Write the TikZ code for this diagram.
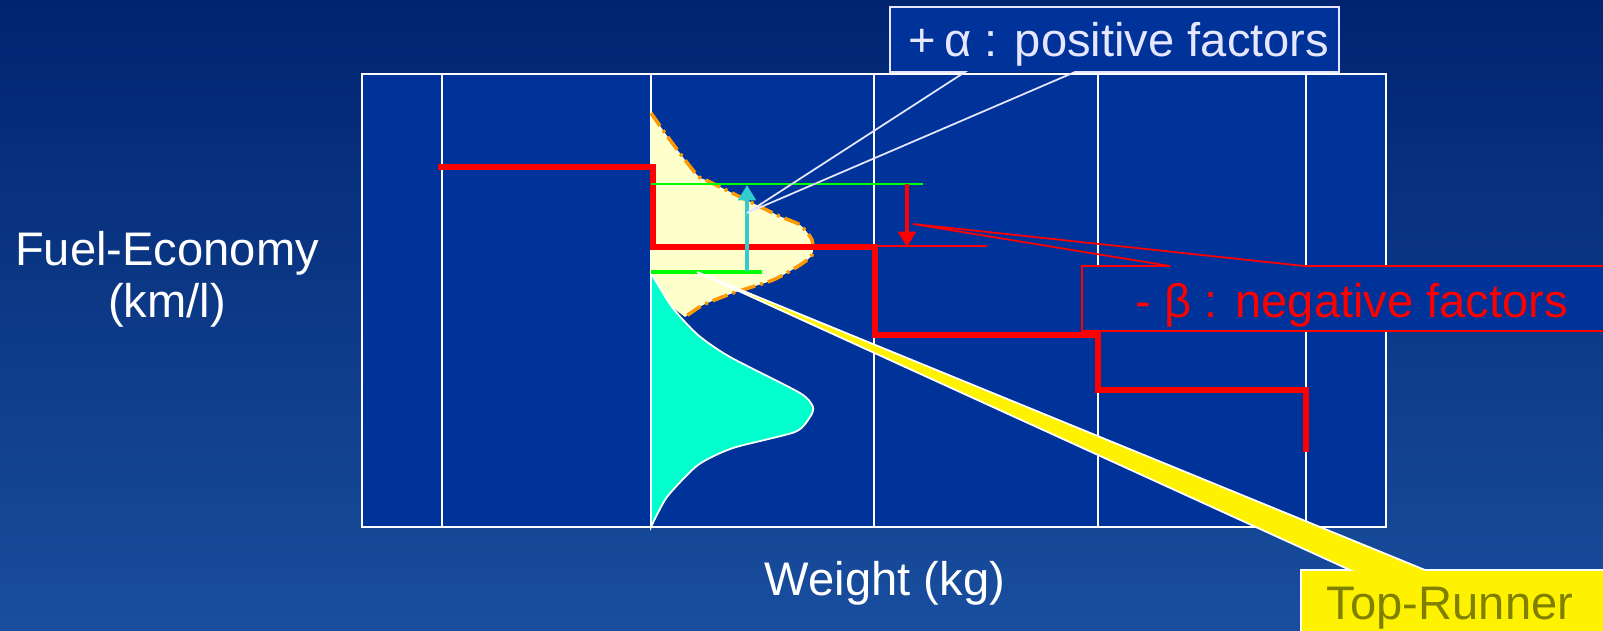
\documentclass[tikz,border=0pt]{standalone}
\usepackage{fontspec}
\setmainfont{Liberation Sans}
\usetikzlibrary{arrows.meta}
\definecolor{bgtop}{RGB}{0,36,112}
\definecolor{bgmid}{RGB}{0,48,142}
\definecolor{bgbot}{RGB}{25,78,158}
\definecolor{boxblue}{RGB}{0,51,153}
\definecolor{paleyellow}{RGB}{255,255,204}
\definecolor{distaqua}{RGB}{0,255,204}
\definecolor{dashorange}{RGB}{255,153,0}
\definecolor{stepred}{RGB}{255,0,0}
\definecolor{levelgreen}{RGB}{0,255,0}
\definecolor{arrowcyan}{RGB}{51,204,204}
\definecolor{lavender}{RGB}{230,230,255}
\definecolor{olivetext}{RGB}{128,128,0}

\begin{document}
\begin{tikzpicture}[x=0.01cm,y=-0.01cm,font=\fontsize{13.4}{16}\selectfont,
  txt/.style={inner sep=0pt,anchor=base},
  gridline/.style={white,line width=0.5pt},
  stepline/.style={stepred,line width=1.6pt},
  callwhite/.style={lavender,line width=0.5pt},
  callred/.style={stepred,line width=0.5pt},
  arrowtip/.style={-{Triangle[width=5pt,length=4.4pt]}}]
  \useasboundingbox (0,0) rectangle (1603,631);
  \shade[top color=bgtop,middle color=bgmid,bottom color=bgbot] (0,0) rectangle (1603,631);

  % chart area
  \fill[boxblue] (362,74) rectangle (1386,527);
  \draw[gridline] (362,74) rectangle (1386,527);
  \foreach \x in {442,651,874,1098,1306}
    \draw[gridline] (\x,74) -- (\x,527);

  % distributions
  \fill[paleyellow] plot[smooth,tension=0.4] coordinates {(651,113) (670,140) (697,175) (710,182) (777,215) (800,225) (812,240) (812,255) (800,265) (773,280) (733,293) (703,305) (685,317)} -- (672,307) -- (651,273) -- cycle;
  \draw[dashorange,line width=1pt,dash pattern=on 4.5pt off 1.5pt on 0.8pt off 1.5pt] plot[smooth,tension=0.4] coordinates {(651,113) (670,140) (697,175) (710,182) (777,215) (800,225) (812,240) (812,255) (800,265) (773,280) (733,293) (703,305) (685,317)};
  \filldraw[draw=white,fill=distaqua,line width=0.5pt] plot[smooth,tension=0.4] coordinates {(651,273) (672,307) (698,335) (730,357) (800,393) (813,407) (810,417) (795,432) (733,448) (698,465) (667,497) (651,527)} -- cycle;

  % standard steps
  \draw[stepline] (438,167) -- (653,167) -- (653,247) -- (875,247) -- (875,335) -- (1098,335) -- (1098,390) -- (1306,390) -- (1306,452);
  \draw[stepred,line width=0.5pt] (875,246) -- (987,246);

  % levels and shifts
  \draw[levelgreen,line width=0.6pt] (651,184) -- (923,184);
  \draw[levelgreen,line width=1.2pt] (651,272) -- (762,272);
  \coordinate (alphaFrom) at (747,271);
  \coordinate (alphaTo) at (747,185);
  \draw[arrowtip,arrowcyan,line width=1.2pt] (alphaFrom) -- (alphaTo);
  \coordinate (betaFrom) at (907,184);
  \coordinate (betaTo) at (907,247);
  \draw[arrowtip,stepred,line width=1.2pt] (betaFrom) -- (betaTo);

  % callouts
  \fill[boxblue] (890,7) rectangle (1339,72);
  \coordinate (alphaTip) at (747,213);
  \draw[callwhite] (965,72) -- (890,72) -- (890,7) -- (1339,7) -- (1339,72) -- (1075,72) -- (alphaTip) -- cycle;
  \node[txt,lavender] (alphaLbl) at (1119,57) {+\,α : positive factors};

  \fill[boxblue] (1082,266) rectangle (1610,331);
  \coordinate (betaTip) at (913,224);
  \draw[callred] (1610,331) -- (1082,331) -- (1082,266) -- (1170,266) -- (betaTip) -- (1304,266) -- (1610,266);
  \node[txt,stepred] (betaLbl) at (1352,318) {- β : negative factors};

  \coordinate (runnerTip) at (697,272);
  \filldraw[fill=yellow,draw=white,line width=0.5pt] (1301,640) -- (1301,570) -- (1350,570) -- (runnerTip) -- (1425,570) -- (1610,570) -- (1610,640) -- cycle;
  \node[txt,olivetext] (runnerLbl) at (1450,620) {Top-Runner};

  % axis labels
  \node[txt,white] (yLblA) at (167,266) {Fuel-Economy};
  \node[txt,white] (yLblB) at (167,318) {(km/l)};
  \node[txt,white] (xLbl) at (885,596) {Weight (kg)};
\end{tikzpicture}
\end{document}
